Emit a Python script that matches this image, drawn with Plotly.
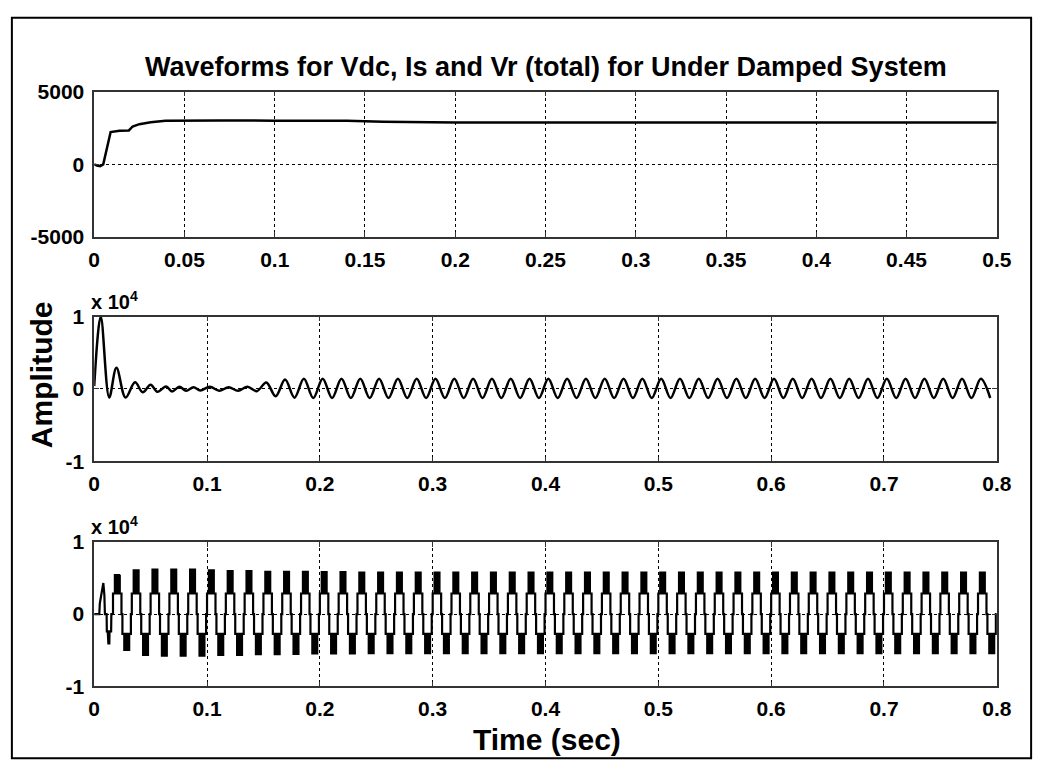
import plotly.graph_objects as go

W, H = 1052, 775

# ---------------- data ----------------
title_text = "Waveforms for Vdc, Is and Vr (total) for Under Damped System"

# Vdc (top panel)
vdc_t = [0.0, 0.0015, 0.0033, 0.0050, 0.0091, 0.0141, 0.0192, 0.0213, 0.0250, 0.0313,
         0.0395, 0.0500, 0.0700, 0.1000, 0.1400, 0.1600, 0.1800, 0.2000, 0.3000, 0.4000, 0.5000]
vdc_v = [0, -80, -120, 0, 2220, 2310, 2330, 2600, 2760, 2890,
         2990, 3010, 3020, 3000, 2990, 2920, 2880, 2870, 2870, 2870, 2870]

# Is (middle panel): transient extrema
is_t_start = [0.0, 0.0058, 0.0133, 0.0197, 0.0278, 0.0362, 0.0430, 0.0500, 0.0560,
              0.0637, 0.0690, 0.0755, 0.0815, 0.0880, 0.0940]
is_v_start = [400, 10000, -1180, 2930, -1180, 915, -450, 600, -400,
              350, -350, 300, -250, 250, -200]
# Is steady part: extremum values every half cycle (60 Hz) starting at t = 0.1025
is_freq = 60.0
is_t0 = 0.1025
is_half_vals = [
    300, -250, 250, -250, 300, -300, 900, -1000, 1300, -1200,
    1400, -1250, 1400, -1250, 1400, -1250, 1400, -1250, 1400, -1250,
    1400, -1250, 1400, -1250, 1400, -1250, 1400, -1250, 1400, -1250,
    1400, -1250, 1400, -1250, 1400, -1250, 1400, -1250, 1400, -1250,
    1400, -1250, 1400, -1250, 1400, -1250, 1400, -1250, 1400, -1250,
    1400, -1250, 1400, -1250, 1400, -1250, 1400, -1250, 1400, -1250,
    1400, -1250, 1400, -1250, 1400, -1250, 1400, -1250, 1400, -1250,
    1400, -1250, 1400, -1250, 1400, -1250, 1400, -1250, 1400, -1250,
    1400, -1250, 1400, -1250,
]

# Vr total (bottom panel)
vr_freq = 60.0
vr_first_t = [0.0, 0.0045, 0.0050, 0.0081, 0.0090, 0.0095, 0.0110, 0.0112, 0.0120,
              0.0122, 0.0124, 0.0126, 0.0128, 0.0130, 0.0132, 0.0134, 0.0136,
              0.0150, 0.0152, 0.0167]
vr_first_v = [0, 0, 1500, 4300, 2700, 0, 0, -2400, -2400,
              -4200, -2400, -4200, -2400, -4200, -2400, -4200, -2400,
              -2400, 0, 0]
vr_step_pos = 2850
vr_step_neg = -2750
vr_pos_peak = [5400, 6200, 6300, 6300, 6300, 6200, 6100, 6100, 6000, 6000,
               6000, 5950, 5950, 5900, 5900, 5900, 5900, 5900, 5900, 5900,
               5900, 5900, 5900, 5900, 5900, 5900, 5900, 5900, 5900, 5900,
               5900, 5900, 5900, 5900, 5900, 5900, 5900, 5900, 5900, 5900,
               5900, 5900, 5900, 5900, 5900, 5900, 5900]
vr_neg_peak = [-5100, -5800, -5900, -5900, -5900, -5800, -5800, -5700, -5700, -5650,
               -5600, -5600, -5600, -5550, -5550, -5550, -5550, -5550, -5550, -5550,
               -5550, -5550, -5550, -5550, -5550, -5550, -5550, -5550, -5550, -5550,
               -5550, -5550, -5550, -5550, -5550, -5550, -5550, -5550, -5550, -5550,
               -5550, -5550, -5550, -5550, -5550, -5550, -5550]

top_xticks = [0, 0.05, 0.1, 0.15, 0.2, 0.25, 0.3, 0.35, 0.4, 0.45, 0.5]
top_xtext = ["0", "0.05", "0.1", "0.15", "0.2", "0.25", "0.3", "0.35", "0.4", "0.45", "0.5"]
top_yticks = [-5000, 0, 5000]
top_ytext = ["-5000", "0", "5000"]
low_xticks = [0, 0.1, 0.2, 0.3, 0.4, 0.5, 0.6, 0.7, 0.8]
low_xtext = ["0", "0.1", "0.2", "0.3", "0.4", "0.5", "0.6", "0.7", "0.8"]
low_yticks = [-10000, 0, 10000]
low_ytext = ["-1", "0", "1"]

# ---------------- build series ----------------
is_t = list(is_t_start)
is_v = list(is_v_start)
for k, v in enumerate(is_half_vals):
    t = is_t0 + k / (2 * is_freq)
    if t > 0.8:
        break
    is_t.append(t)
    is_v.append(v)

T = 1.0 / vr_freq
vr_t = list(vr_first_t)
vr_v = list(vr_first_v)


def block(t_a, t_b, lo, hi, n=9):
    pts = []
    for j in range(n):
        tj = t_a + (t_b - t_a) * j / (n - 1)
        if j % 2 == 0:
            pts += [(tj, lo), (tj, hi)]
        else:
            pts += [(tj, hi), (tj, lo)]
    return pts


for c, (p, n) in enumerate(zip(vr_pos_peak, vr_neg_peak), start=1):
    t0 = c * T
    pts = [(t0, 0), (t0, vr_step_pos), (t0 + 0.10 * T, vr_step_pos)]
    pts += block(t0 + 0.10 * T, t0 + 0.36 * T, vr_step_pos, p)
    pts += [(t0 + 0.36 * T, vr_step_pos), (t0 + 0.45 * T, vr_step_pos), (t0 + 0.45 * T, 0),
            (t0 + 0.50 * T, 0), (t0 + 0.50 * T, vr_step_neg), (t0 + 0.60 * T, vr_step_neg)]
    pts += block(t0 + 0.60 * T, t0 + 0.86 * T, vr_step_neg, n)
    pts += [(t0 + 0.86 * T, vr_step_neg), (t0 + 0.95 * T, vr_step_neg), (t0 + 0.95 * T, 0),
            (t0 + T, 0)]
    for tt, vv in pts:
        if tt <= 0.8:
            vr_t.append(tt)
            vr_v.append(vv)

# ---------------- figure ----------------
FONT = "Liberation Sans, Arial, Helvetica, sans-serif"
fig = go.Figure()
line = dict(color="black", width=2.5)
fig.add_trace(go.Scatter(x=vdc_t, y=vdc_v, mode="lines", line=line, xaxis="x", yaxis="y", showlegend=False))
fig.add_trace(go.Scatter(x=is_t, y=is_v, mode="lines", line=dict(color="black", width=2.5, shape="spline", smoothing=1.0),
                         xaxis="x2", yaxis="y2", showlegend=False))
fig.add_trace(go.Scatter(x=vr_t, y=vr_v, mode="lines", line=dict(color="black", width=2.2),
                         xaxis="x3", yaxis="y3", showlegend=False))

xdom = [90 / W, 1011 / W]


def ydom(top_px, bot_px):
    return [(H - bot_px) / H, (H - top_px) / H]


tickfont = dict(family=FONT, size=21, color="black", weight="bold")
ax_common = dict(showline=True, linecolor="#333", linewidth=1.5, mirror="ticks", ticks="inside",
                 ticklen=5, tickcolor="#333", tickwidth=1.2, showgrid=True, gridcolor="black",
                 gridwidth=1, griddash="3px,3px", zeroline=False, tickfont=tickfont, fixedrange=True)

fig.update_layout(
    width=W, height=H, margin=dict(l=0, r=0, t=0, b=0),
    paper_bgcolor="white", plot_bgcolor="white",
    xaxis=dict(domain=xdom, range=[0, 0.5], tickvals=top_xticks, ticktext=top_xtext, anchor="y",
               ticklabelstandoff=3, **ax_common),
    yaxis=dict(domain=ydom(82, 232), range=[-5000, 5000], tickvals=top_yticks, ticktext=top_ytext,
               anchor="x", ticklabelstandoff=4, **ax_common),
    xaxis2=dict(domain=xdom, range=[0, 0.8], tickvals=low_xticks, ticktext=low_xtext, anchor="y2",
                ticklabelstandoff=3, **ax_common),
    yaxis2=dict(domain=ydom(314, 463), range=[-10000, 10000], tickvals=low_yticks, ticktext=low_ytext,
                anchor="x2", ticklabelstandoff=4, **ax_common),
    xaxis3=dict(domain=xdom, range=[0, 0.8], tickvals=low_xticks, ticktext=low_xtext, anchor="y3",
                ticklabelstandoff=3, **ax_common),
    yaxis3=dict(domain=ydom(546, 695), range=[-10000, 10000], tickvals=low_yticks, ticktext=low_ytext,
                anchor="x3", ticklabelstandoff=4, **ax_common),
)

annots = [
    dict(text=title_text, x=550.5 / W, y=1 - 57 / H, font=dict(family=FONT, size=27, color="black", weight="bold")),
    dict(text="Amplitude", x=37 / W, y=1 - 374 / H, textangle=-90,
         font=dict(family=FONT, size=30, color="black", weight="bold")),
    dict(text="Time (sec)", x=552 / W, y=1 - 750 / H, font=dict(family=FONT, size=30, color="black", weight="bold")),
    dict(text="x 10<sup>4</sup>", x=86 / W, y=1 - 297 / H, xanchor="left",
         font=dict(family=FONT, size=20, color="black", weight="bold")),
    dict(text="x 10<sup>4</sup>", x=86 / W, y=1 - 529 / H, xanchor="left",
         font=dict(family=FONT, size=20, color="black", weight="bold")),
]
for a in annots:
    a.setdefault("xanchor", "center")
    fig.add_annotation(xref="paper", yref="paper", yanchor="middle", showarrow=False, borderpad=0, **a)

# outer frame of the picture
fig.add_shape(type="rect", xref="paper", yref="paper", x0=6 / W, x1=1046 / W, y0=1 - 769 / H, y1=1 - 6 / H,
              line=dict(color="black", width=2), fillcolor="rgba(0,0,0,0)", layer="above")

fig.write_html("out.html")
